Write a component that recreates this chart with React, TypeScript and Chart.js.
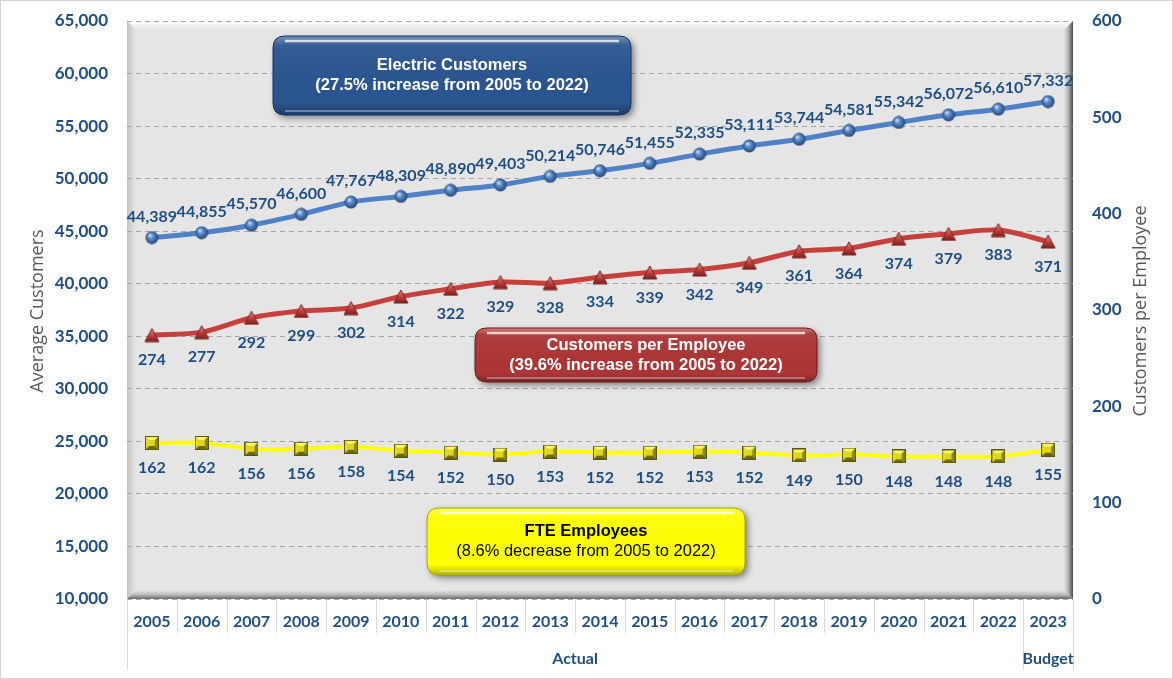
import React, { useEffect, useRef } from "react";
import { Chart, registerables } from "chart.js";
Chart.register(...registerables);

const years = ["2005","2006","2007","2008","2009","2010","2011","2012","2013","2014","2015","2016","2017","2018","2019","2020","2021","2022","2023"];
const electricCustomers = [44389,44855,45570,46600,47767,48309,48890,49403,50214,50746,51455,52335,53111,53744,54581,55342,56072,56610,57332];
const customersPerEmployee = [274,277,292,299,302,314,322,329,328,334,339,342,349,361,364,374,379,383,371];
const fteEmployees = [162,162,156,156,158,154,152,150,153,152,152,153,152,149,150,148,148,148,155];
const groups = [{ label: "Actual", from: 0, to: 17 }, { label: "Budget", from: 18, to: 18 }];
const leftAxisTitle = "Average Customers";
const rightAxisTitle = "Customers per Employee";

const BLUE_TEXT = "#1f4e84";
const FONT = "Lato, 'Open Sans', sans-serif";
const TITLE_FONT = "'Open Sans', Lato, sans-serif";
const BOX_FONT = "'Liberation Sans', Arial, sans-serif";

function makeSphere(): HTMLCanvasElement {
  const c = document.createElement("canvas");
  c.width = 14; c.height = 14;
  const x = c.getContext("2d")!;
  const g = x.createRadialGradient(5, 4.5, 0.5, 7, 7, 7);
  g.addColorStop(0, "#c5dbf5");
  g.addColorStop(0.35, "#5b8ccc");
  g.addColorStop(1, "#1d3f70");
  x.fillStyle = g;
  x.beginPath(); x.arc(7, 7, 6.5, 0, Math.PI * 2); x.fill();
  return c;
}
function makeTriangle(): HTMLCanvasElement {
  const c = document.createElement("canvas");
  c.width = 16; c.height = 15;
  const x = c.getContext("2d")!;
  const g = x.createLinearGradient(0, 1, 0, 14);
  g.addColorStop(0, "#e58a86");
  g.addColorStop(0.6, "#b63c38");
  g.addColorStop(1, "#7a1f1c");
  x.fillStyle = g;
  x.beginPath(); x.moveTo(8, 1); x.lineTo(15, 14); x.lineTo(1, 14); x.closePath(); x.fill();
  x.strokeStyle = "#7a2321"; x.lineWidth = 1; x.stroke();
  return c;
}
function makeSquare(): HTMLCanvasElement {
  const c = document.createElement("canvas");
  c.width = 14; c.height = 14;
  const x = c.getContext("2d")!;
  const s = 13, o = 0.5, m = 7;
  const tri = (pts: number[][], col: string) => {
    x.fillStyle = col; x.beginPath(); x.moveTo(pts[0][0], pts[0][1]);
    for (let i = 1; i < pts.length; i++) x.lineTo(pts[i][0], pts[i][1]);
    x.closePath(); x.fill();
  };
  tri([[o, o], [o + s, o], [m, m]], "#fbf56a");
  tri([[o, o], [m, m], [o, o + s]], "#e4dc10");
  tri([[o + s, o], [o + s, o + s], [m, m]], "#8f8710");
  tri([[o, o + s], [m, m], [o + s, o + s]], "#6f680c");
  x.fillStyle = "#ddd520"; x.fillRect(4, 4, 6, 6);
  x.strokeStyle = "#5a550a"; x.lineWidth = 1; x.strokeRect(0.5, 0.5, 13, 13);
  return c;
}

function roundRectPath(ctx: CanvasRenderingContext2D, x: number, y: number, w: number, h: number, r: number) {
  ctx.beginPath();
  ctx.moveTo(x + r, y);
  ctx.lineTo(x + w - r, y);
  ctx.quadraticCurveTo(x + w, y, x + w, y + r);
  ctx.lineTo(x + w, y + h - r);
  ctx.quadraticCurveTo(x + w, y + h, x + w - r, y + h);
  ctx.lineTo(x + r, y + h);
  ctx.quadraticCurveTo(x, y + h, x, y + h - r);
  ctx.lineTo(x, y + r);
  ctx.quadraticCurveTo(x, y, x + r, y);
  ctx.closePath();
}

type Box = { x: number; y: number; w: number; h: number; fill: string; dark: string; text: string; lines: { t: string; bold: boolean }[] };
const boxes: Box[] = [
  { x: 273, y: 36, w: 358, h: 79, fill: "#2a5590", dark: "#173766", text: "#ffffff",
    lines: [{ t: "Electric Customers", bold: true }, { t: "(27.5% increase from 2005 to 2022)", bold: true }] },
  { x: 475, y: 328, w: 342, h: 54, fill: "#ad3535", dark: "#6e1b1b", text: "#ffffff",
    lines: [{ t: "Customers per Employee", bold: true }, { t: "(39.6% increase from 2005 to 2022)", bold: true }] },
  { x: 427, y: 508, w: 318, h: 67, fill: "#ffff00", dark: "#a8a800", text: "#000000",
    lines: [{ t: "FTE Employees", bold: true }, { t: "(8.6% decrease from 2005 to 2022)", bold: false }] },
];

function drawBox(ctx: CanvasRenderingContext2D, b: Box) {
  ctx.save();
  ctx.shadowColor = "rgba(0,0,0,0.45)";
  ctx.shadowBlur = 6; ctx.shadowOffsetX = 3; ctx.shadowOffsetY = 3;
  roundRectPath(ctx, b.x, b.y, b.w, b.h, 12);
  ctx.fillStyle = b.fill; ctx.fill();
  ctx.restore();
  ctx.save();
  roundRectPath(ctx, b.x, b.y, b.w, b.h, 12);
  ctx.clip();
  const g = ctx.createLinearGradient(0, b.y, 0, b.y + b.h);
  g.addColorStop(0, "rgba(255,255,255,0.35)");
  g.addColorStop(0.12, "rgba(255,255,255,0.05)");
  g.addColorStop(0.85, "rgba(0,0,0,0)");
  g.addColorStop(1, "rgba(0,0,0,0.3)");
  ctx.fillStyle = g; ctx.fillRect(b.x, b.y, b.w, b.h);
  ctx.strokeStyle = "rgba(255,255,255,0.75)"; ctx.lineWidth = 2.5;
  ctx.beginPath(); ctx.moveTo(b.x + 12, b.y + 5); ctx.lineTo(b.x + b.w - 12, b.y + 5); ctx.stroke();
  ctx.strokeStyle = "rgba(255,255,255,0.35)"; ctx.lineWidth = 2;
  ctx.beginPath(); ctx.moveTo(b.x + 12, b.y + b.h - 4); ctx.lineTo(b.x + b.w - 12, b.y + b.h - 4); ctx.stroke();
  ctx.restore();
  ctx.save();
  roundRectPath(ctx, b.x, b.y, b.w, b.h, 12);
  ctx.strokeStyle = b.dark; ctx.lineWidth = 1; ctx.stroke();
  ctx.fillStyle = b.text; ctx.textAlign = "center"; ctx.textBaseline = "middle";
  const cx = b.x + b.w / 2, cy = b.y + b.h / 2;
  const lh = 20;
  b.lines.forEach((l, i) => {
    ctx.font = `${l.bold ? "bold " : ""}16.5px ${BOX_FONT}`;
    ctx.fillText(l.t, cx, cy + (i - (b.lines.length - 1) / 2) * lh);
  });
  ctx.restore();
}

const bgPlugin = {
  id: "bgPlugin",
  beforeDraw(chart: any) {
    const { ctx, chartArea: a, width, height } = chart;
    ctx.save();
    ctx.fillStyle = "#ffffff"; ctx.fillRect(0, 0, width, height);
    ctx.strokeStyle = "#d4d4d4"; ctx.lineWidth = 1; ctx.strokeRect(0.5, 0.5, width - 1, height - 1);
    const L = a.left, R = a.right, T = a.top, B = a.bottom, bw = 9;
    ctx.fillStyle = "#e5e5e5"; ctx.fillRect(L, T, R - L, B - T);
    const poly = (pts: number[][], fill: any) => {
      ctx.fillStyle = fill; ctx.beginPath(); ctx.moveTo(pts[0][0], pts[0][1]);
      for (let i = 1; i < pts.length; i++) ctx.lineTo(pts[i][0], pts[i][1]);
      ctx.closePath(); ctx.fill();
    };
    let g = ctx.createLinearGradient(0, T, 0, T + bw);
    g.addColorStop(0, "#ffffff"); g.addColorStop(1, "#e5e5e5");
    poly([[L, T], [R, T], [R - bw, T + bw], [L + bw, T + bw]], g);
    g = ctx.createLinearGradient(L, 0, L + bw, 0);
    g.addColorStop(0, "#c4c4c4"); g.addColorStop(1, "#e5e5e5");
    poly([[L, T], [L + bw, T + bw], [L + bw, B - bw], [L, B]], g);
    g = ctx.createLinearGradient(R - bw, 0, R, 0);
    g.addColorStop(0, "#e5e5e5"); g.addColorStop(0.5, "#b0b0b0"); g.addColorStop(1, "#4a4a4a");
    poly([[R, T], [R, B], [R - bw, B - bw], [R - bw, T + bw]], g);
    g = ctx.createLinearGradient(0, B - bw, 0, B);
    g.addColorStop(0, "#e5e5e5"); g.addColorStop(0.5, "#bdbdbd"); g.addColorStop(1, "#6a6a6a");
    poly([[L, B], [L + bw, B - bw], [R - bw, B - bw], [R, B]], g);
    ctx.restore();
  },
  afterDatasetsDraw(chart: any) {
    const { ctx } = chart;
    ctx.save();
    ctx.textAlign = "center"; ctx.textBaseline = "middle";
    ctx.fillStyle = BLUE_TEXT;
    ctx.font = `bold 16px ${FONT}`;
    const offsets = [-21, 25, 25];
    chart.data.datasets.forEach((ds: any, di: number) => {
      const meta = chart.getDatasetMeta(di);
      meta.data.forEach((pt: any, i: number) => {
        const v = ds.data[i];
        ctx.fillText(v.toLocaleString("en-US"), pt.x, pt.y + offsets[di]);
      });
    });
    ctx.restore();
    boxes.forEach((b) => drawBox(ctx, b));
  },
  afterDraw(chart: any) {
    const { ctx, chartArea: a, scales } = chart;
    const xs = scales.x;
    const n = years.length;
    const bound = (i: number) => (i <= 0 ? a.left : i >= n ? a.right : (xs.getPixelForTick(i - 1) + xs.getPixelForTick(i)) / 2);
    ctx.save();
    ctx.strokeStyle = "#d9d9d9"; ctx.lineWidth = 1;
    const groupEdges = new Set<number>();
    groups.forEach((gr) => { groupEdges.add(gr.from); groupEdges.add(gr.to + 1); });
    for (let i = 0; i <= n; i++) {
      const x = Math.round(bound(i)) + 0.5;
      const long = groupEdges.has(i);
      ctx.beginPath(); ctx.moveTo(x, a.bottom); ctx.lineTo(x, a.bottom + (long ? 71 : 34)); ctx.stroke();
    }
    ctx.fillStyle = BLUE_TEXT; ctx.font = `bold 16px ${FONT}`;
    ctx.textAlign = "center"; ctx.textBaseline = "middle";
    groups.forEach((gr) => {
      const cx = gr.from === gr.to ? xs.getPixelForTick(gr.from) : (bound(gr.from) + bound(gr.to + 1)) / 2;
      ctx.fillText(gr.label, cx, a.bottom + 60);
    });
    ctx.fillStyle = "#595959"; ctx.font = `18px ${TITLE_FONT}`;
    const mid = (a.top + a.bottom) / 2;
    ctx.save(); ctx.translate(38, mid + 1); ctx.rotate(-Math.PI / 2); ctx.fillText(leftAxisTitle, 0, 0); ctx.restore();
    ctx.save(); ctx.translate(1141, mid + 1); ctx.rotate(-Math.PI / 2); ctx.fillText(rightAxisTitle, 0, 0); ctx.restore();
    ctx.restore();
  },
};

export default function App() {
  const ref = useRef<HTMLCanvasElement | null>(null);
  useEffect(() => {
    document.body.style.margin = "0";
    const sphere = makeSphere(), tri = makeTriangle(), sq = makeSquare();
    const chart = new Chart(ref.current!, {
      type: "line",
      data: {
        labels: years,
        datasets: [
          { label: "Electric Customers", data: electricCustomers, yAxisID: "y", borderColor: "#4f81c7", borderWidth: 5,
            tension: 0.3, pointStyle: sphere as any, pointRadius: 7, fill: false },
          { label: "Customers per Employee", data: customersPerEmployee, yAxisID: "y1", borderColor: "#c8403c", borderWidth: 5,
            tension: 0.3, pointStyle: tri as any, pointRadius: 7, fill: false },
          { label: "FTE Employees", data: fteEmployees, yAxisID: "y1", borderColor: "#ffff00", borderWidth: 4,
            tension: 0.3, pointStyle: sq as any, pointRadius: 7, fill: false },
        ],
      },
      options: {
        responsive: false,
        animation: false,
        layout: { padding: { top: 21, left: 0, right: 0, bottom: 0 } },
        plugins: { legend: { display: false }, tooltip: { enabled: false } },
        scales: {
          x: {
            offset: true,
            grid: { display: false, drawTicks: false },
            border: { display: false },
            ticks: { color: BLUE_TEXT, font: { family: FONT, weight: "bold", size: 16 }, padding: 13, maxRotation: 0, autoSkip: false },
            afterFit: (s: any) => { s.height = 80; s.paddingLeft = 0; s.paddingRight = 0; },
          },
          y: {
            position: "left",
            min: 10000, max: 65000,
            grid: { color: "#a6a6a6", drawTicks: false, lineWidth: 1 },
            border: { display: false, dash: [5, 4] },
            ticks: { stepSize: 5000, color: BLUE_TEXT, font: { family: FONT, weight: "bold", size: 17 }, padding: 19,
              callback: (v: any) => Number(v).toLocaleString("en-US") },
            afterFit: (s: any) => { s.width = 127; s.paddingTop = 0; s.paddingBottom = 0; },
          },
          y1: {
            position: "right",
            min: 0, max: 600,
            grid: { display: false, drawTicks: false },
            border: { display: false },
            ticks: { stepSize: 100, color: BLUE_TEXT, font: { family: FONT, weight: "bold", size: 17 }, padding: 19 },
            afterFit: (s: any) => { s.width = 100; s.paddingTop = 0; s.paddingBottom = 0; },
          },
        },
      },
      plugins: [bgPlugin],
    } as any);
    return () => chart.destroy();
  }, []);
  return (
    <div style={{ width: 1173, height: 679 }}>
      <canvas ref={ref} width={1173} height={679} style={{ display: "block" }} />
    </div>
  );
}
